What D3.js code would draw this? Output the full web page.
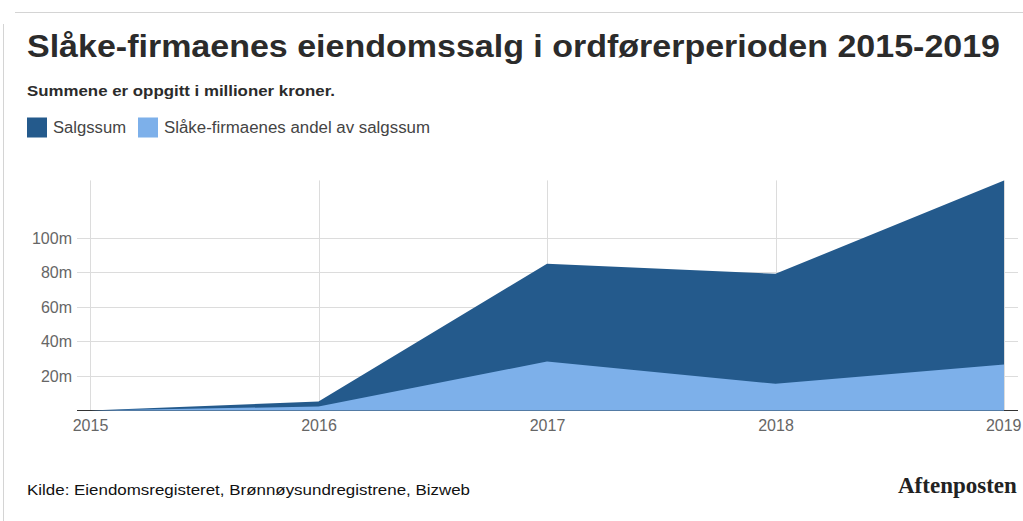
<!DOCTYPE html>
<html><head><meta charset="utf-8">
<script src="https://cdn.jsdelivr.net/npm/d3@7"></script>
<style>
html,body{margin:0;padding:0;background:#fff;}
svg{display:block;font-family:"Liberation Sans",Arial,Helvetica,sans-serif;}
</style></head>
<body>
<svg id="c" width="1023" height="521"></svg>
<script>
const years = [2015, 2016, 2017, 2018, 2019];
const salgssum = [0, 5.2, 84.8, 79, 133];
const andel = [0, 2.3, 28.3, 15.4, 26.6];
const yTicks = [20, 40, 60, 80, 100];
const seriesNames = ["Salgssum", "Slåke-firmaenes andel av salgssum"];
const colors = ["#245a8c", "#7db0ea"];
const title = "Slåke-firmaenes eiendomssalg i ordførerperioden 2015-2019";
const subtitle = "Summene er oppgitt i millioner kroner.";
const source = "Kilde: Eiendomsregisteret, Brønnøysundregistrene, Bizweb";

const svg = d3.select("#c");

// frame lines
svg.append("line").attr("x1", 15).attr("x2", 1023).attr("y1", 12.5).attr("y2", 12.5)
  .attr("stroke", "#d4d4d4").attr("stroke-width", 1);
svg.append("line").attr("x1", 3.5).attr("x2", 3.5).attr("y1", 24).attr("y2", 521)
  .attr("stroke", "#d4d4d4").attr("stroke-width", 1);

// title
svg.append("text").attr("x", 27).attr("y", 57).text(title)
  .attr("font-size", 32).attr("font-weight", "bold").attr("fill", "#2b2b2b")
  .attr("textLength", 973).attr("lengthAdjust", "spacingAndGlyphs");

svg.append("text").attr("x", 27).attr("y", 96).text(subtitle)
  .attr("font-size", 15).attr("font-weight", "bold").attr("fill", "#2b2b2b")
  .attr("textLength", 308).attr("lengthAdjust", "spacingAndGlyphs");

// legend
const legendX = [27, 138];
const legendW = [73, 266];
seriesNames.forEach((n, i) => {
  svg.append("rect").attr("x", legendX[i]).attr("y", 117.5).attr("width", 20).attr("height", 20)
    .attr("fill", colors[i]);
  svg.append("text").attr("x", legendX[i] + 26).attr("y", 133).text(n)
    .attr("font-size", 16).attr("fill", "#444")
    .attr("textLength", legendW[i]).attr("lengthAdjust", "spacingAndGlyphs");
});

// scales
const x = d3.scalePoint().domain(years).range([90, 1004]);
const y = d3.scaleLinear().domain([0, 100]).range([410.5, 237.5]);

const g = svg.append("g");
// horizontal gridlines
g.selectAll("line.h").data(yTicks).join("line").attr("class", "h")
  .attr("x1", 77).attr("x2", 1018).attr("y1", d => Math.round(y(d)) + 0.5).attr("y2", d => Math.round(y(d)) + 0.5)
  .attr("stroke", "#dcdcdc").attr("stroke-width", 1);
// vertical gridlines
const topY = y(d3.max(salgssum));
g.selectAll("line.v").data(years).join("line").attr("class", "v")
  .attr("x1", d => Math.round(x(d)) + 0.5).attr("x2", d => Math.round(x(d)) + 0.5)
  .attr("y1", topY).attr("y2", y(0))
  .attr("stroke", "#dcdcdc").attr("stroke-width", 1);
// baseline
g.append("line").attr("x1", 77).attr("x2", 1018).attr("y1", y(0)).attr("y2", y(0))
  .attr("stroke", "#333").attr("stroke-width", 1.2);

// areas (overlapping)
const area = vals => d3.area().x((d, i) => x(years[i])).y0(y(0)).y1(d => y(d))(vals);
g.append("path").attr("d", area(salgssum)).attr("fill", colors[0]);
g.append("path").attr("d", area(andel)).attr("fill", colors[1]);

// y axis labels
const yAxis = d3.axisLeft(y).tickValues(yTicks).tickFormat(d => d + "m").tickSize(0).tickPadding(0);
const ya = svg.append("g").attr("transform", "translate(72,0)").call(yAxis);
ya.select(".domain").remove();
ya.selectAll("text").attr("font-size", 16).attr("fill", "#666")
  .attr("font-family", "Liberation Sans, Arial, sans-serif").attr("dy", "0.35em");

// x axis labels
const xAxis = d3.axisBottom(x).tickSize(0).tickPadding(0).tickFormat(d3.format("d"));
const xa = svg.append("g").attr("transform", "translate(0,420)").call(xAxis);
xa.select(".domain").remove();
xa.selectAll("text").attr("font-size", 16).attr("fill", "#666")
  .attr("font-family", "Liberation Sans, Arial, sans-serif");
xa.selectAll(".tick").filter(d => d === 2019).select("text").attr("text-anchor", "end").attr("x", 17);

// footer
svg.append("text").attr("x", 27).attr("y", 495).text(source)
  .attr("font-size", 15).attr("fill", "#111")
  .attr("textLength", 443).attr("lengthAdjust", "spacingAndGlyphs");
svg.append("text").attr("x", 898).attr("y", 493).text("Aftenposten")
  .attr("font-family", "Liberation Serif, Times New Roman, serif").attr("font-weight", "bold")
  .attr("font-size", 23).attr("fill", "#222");
</script>
</body></html>
